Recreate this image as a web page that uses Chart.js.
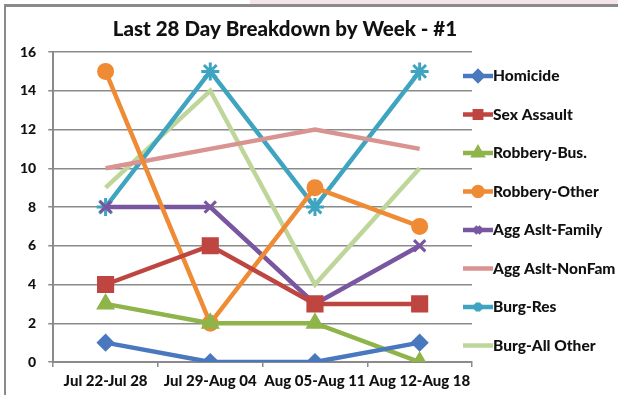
<!DOCTYPE html>
<html>
<head>
<meta charset="utf-8">
<script src="https://cdn.jsdelivr.net/npm/chart.js@4/dist/chart.umd.min.js"></script>
<style>
    html, body { margin: 0; padding: 0; background: #ffffff; }
    #wrap { position: relative; width: 618px; height: 395px; }
    #frame {
        position: absolute; left: 4px; top: 4px; right: 0; bottom: 0;
        border-top: 3px solid #8a8a8a; border-left: 2px solid #8a8a8a;
        pointer-events: none;
    }
    #topStrip { position: absolute; left: 250px; top: 0; right: 0; height: 4px; background: #f4e6e8; }
</style>
</head>
<body>
<div id="wrap">
    <div id="topStrip"></div>
    <canvas id="weekChart" width="618" height="395"></canvas>
    <div id="frame"></div>
</div>
<script>
const weeks = ['Jul 22-Jul 28', 'Jul 29-Aug 04', 'Aug 05-Aug 11', 'Aug 12-Aug 18'];

const homicide = [1, 0, 0, 1];
const sexAssault = [4, 6, 3, 3];
const robberyBus = [3, 2, 2, 0];
const robberyOther = [15, 2, 9, 7];
const aggAsltFamily = [8, 8, 3, 6];
const aggAsltNonFam = [10, 11, 12, 11];
const burgRes = [8, 15, 8, 15];
const burgAllOther = [9, 14, 4, 10];

const yTicks = [0, 2, 4, 6, 8, 10, 12, 14, 16];

const FONT = 'Lato, "Open Sans", sans-serif';

function series(label, data, color, pointStyle, radius) {
    return {
        label: label,
        data: data,
        borderColor: color,
        backgroundColor: color,
        pointBackgroundColor: color,
        pointBorderColor: color,
        borderWidth: 4.5,
        pointStyle: pointStyle || false,
        pointRadius: pointStyle ? radius : 0,
        pointBorderWidth: 3,
        tension: 0
    };
}

// Title plus the legend on the right: line sample with marker, then label
const sideLegend = {
    id: 'sideLegend',
    afterDraw(chart) {
        const ctx = chart.ctx;
        ctx.save();
        ctx.fillStyle = '#111';
        ctx.font = '900 20.5px ' + FONT;
        ctx.textAlign = 'center';
        ctx.textBaseline = 'middle';
        ctx.fillText('Last 28 Day Breakdown by Week - #1', 285, 29);

        chart.data.datasets.forEach((ds, i) => {
            const y = 76 + i * 38.5;
            ctx.strokeStyle = ds.borderColor;
            ctx.lineWidth = 4.5;
            ctx.beginPath();
            ctx.moveTo(463, y);
            ctx.lineTo(493, y);
            ctx.stroke();
            if (ds.pointStyle) {
                ctx.fillStyle = ds.borderColor;
                Chart.helpers.drawPoint(ctx, {
                    pointStyle: ds.pointStyle, radius: 4.5, rotation: 0, borderWidth: 2
                }, 478, y);
            }
            ctx.fillStyle = '#111';
            ctx.font = '900 15.5px ' + FONT;
            ctx.textAlign = 'left';
            ctx.fillText(ds.label, 493, y);
        });
        ctx.restore();
    }
};

new Chart(document.getElementById('weekChart'), {
    type: 'line',
    data: {
        labels: weeks,
        datasets: [
            series('Homicide', homicide, '#4a78bf', 'rectRot', 7),
            series('Sex Assault', sexAssault, '#bf4541', 'rect', 10),
            series('Robbery-Bus.', robberyBus, '#8fb449', 'triangle', 8),
            series('Robbery-Other', robberyOther, '#ef8a35', 'circle', 7),
            series('Agg Aslt-Family', aggAsltFamily, '#7856a0', 'crossRot', 8),
            series('Agg Aslt-NonFam', aggAsltNonFam, '#d99391', false, 0),
            series('Burg-Res', burgRes, '#3fa4c0', 'star', 9),
            series('Burg-All Other', burgAllOther, '#bfd69a', false, 0)
        ]
    },
    options: {
        responsive: false,
        animation: false,
        layout: { padding: { left: 8, right: 146, top: 52, bottom: 0 } },
        plugins: {
            legend: { display: false },
            title: { display: false },
            tooltip: { enabled: false }
        },
        scales: {
            x: {
                offset: true,
                grid: {
                    offset: true,
                    drawOnChartArea: false,
                    drawTicks: true,
                    tickLength: 5,
                    color: '#8a8a8a',
                    lineWidth: 1.5
                },
                border: { color: '#8a8a8a', width: 2 },
                ticks: {
                    color: '#111',
                    font: { family: FONT, size: 15, weight: '900' },
                    maxRotation: 0,
                    autoSkip: false,
                    padding: 5
                }
            },
            y: {
                min: 0,
                max: 16,
                afterBuildTicks(axis) {
                    axis.ticks = yTicks.map(v => ({ value: v }));
                },
                grid: {
                    color: '#8a8a8a',
                    lineWidth: 1.5,
                    tickLength: 5
                },
                border: { color: '#8a8a8a', width: 2 },
                ticks: {
                    color: '#111',
                    font: { family: FONT, size: 14, weight: '900' },
                    padding: 12
                }
            }
        }
    },
    plugins: [sideLegend]
});
</script>
</body>
</html>
